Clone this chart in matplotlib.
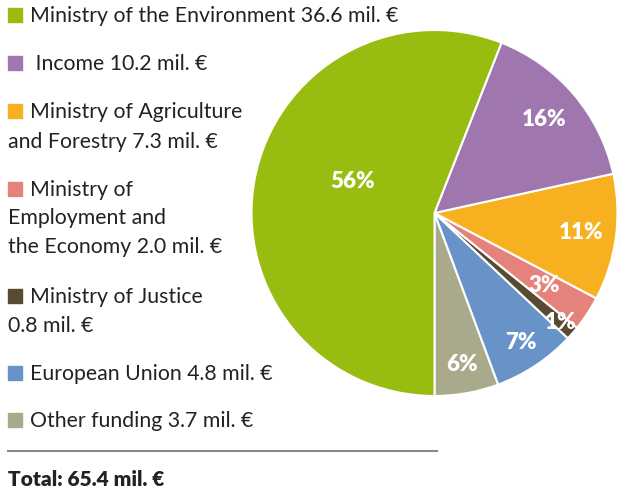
import numpy as np
import matplotlib.pyplot as plt
from matplotlib.patches import Rectangle

# data (mil. EUR), drawn counter-clockwise from 6 o'clock
sources = ['Other funding', 'European Union', 'Ministry of Justice',
           'Ministry of Employment and the Economy',
           'Ministry of Agriculture and Forestry', 'Income',
           'Ministry of the Environment']
amounts = [3.7, 4.8, 0.8, 2.0, 7.3, 10.2, 36.6]
pct_labels = ['6%', '7%', '1%', '3%', '11%', '16%', '56%']
colors = ['#a8aa8b', '#6893c8', '#584b33', '#e5827b', '#f7b120', '#9f77ae', '#98bd10']

# legend entries (top to bottom) as text lines
legend_lines = [
    ['Ministry of the Environment 36.6 mil. €'],
    [' Income 10.2 mil. €'],
    ['Ministry of Agriculture', 'and Forestry 7.3 mil. €'],
    ['Ministry of', 'Employment and', 'the Economy 2.0 mil. €'],
    ['Ministry of Justice', '0.8 mil. €'],
    ['European Union 4.8 mil. €'],
    ['Other funding 3.7 mil. €'],
]
legend_colors = ['#98bd10', '#9f77ae', '#f7b120', '#e5827b', '#584b33', '#6893c8', '#a8aa8b']
total_text = 'Total: 65.4 mil. €'

plt.rcParams['font.family'] = ['Lato', 'DejaVu Sans']

W, H = 617, 491
fig = plt.figure(figsize=(W / 100, H / 100), dpi=100)

# pie axes: centre (434.5, 213) px, radius 183 px
cx, cy, r = 434.5, 213, 183
ax = fig.add_axes([(cx - r) / W, (H - cy - r) / H, 2 * r / W, 2 * r / H])
wedges, _ = ax.pie(amounts, colors=colors, startangle=-90, counterclock=True,
                   radius=1, wedgeprops=dict(edgecolor='white', linewidth=1.5))
ax.set_xlim(-1, 1)
ax.set_ylim(-1, 1)
ax.set_aspect('equal')
ax.axis('off')

# label placement: radius fraction and angle tweak (deg)
label_r = [0.84, 0.85, 0.91, 0.72, 0.81, 0.79, 0.48]
label_da = [0, 0, 0, 0, 0, 0, -10.5]
for w, lab, lr, da in zip(wedges, pct_labels, label_r, label_da):
    mid = np.deg2rad((w.theta1 + w.theta2) / 2 + da)
    ax.text(lr * np.cos(mid), lr * np.sin(mid), lab, color='white',
            fontsize=16, fontweight='heavy', ha='center', va='center')

# legend drawn by hand
def px(x, y):
    return x / W, 1 - y / H

baselines = [[22], [70], [118, 148], [196, 224, 253], [303, 332], [380], [427]]
for lines, col, ys in zip(legend_lines, legend_colors, baselines):
    fig.patches.append(Rectangle(px(8, ys[0]), 14 / W, 14 / H, color=col,
                                 transform=fig.transFigure, figure=fig))
    for i, (line, y) in enumerate(zip(lines, ys)):
        x = 30 if i == 0 else 8
        fig.text(*px(x, y), line, fontsize=15.3, color='#222222', va='baseline', ha='left')

fig.add_artist(plt.Line2D([8 / W, 437 / W], [1 - 451 / H] * 2, color='#888888',
                          linewidth=1.5, transform=fig.transFigure))
fig.text(*px(8, 486), total_text, fontsize=15, fontweight='heavy', color='#222222',
         va='baseline', ha='left')

fig.savefig('out.png', dpi=100)
